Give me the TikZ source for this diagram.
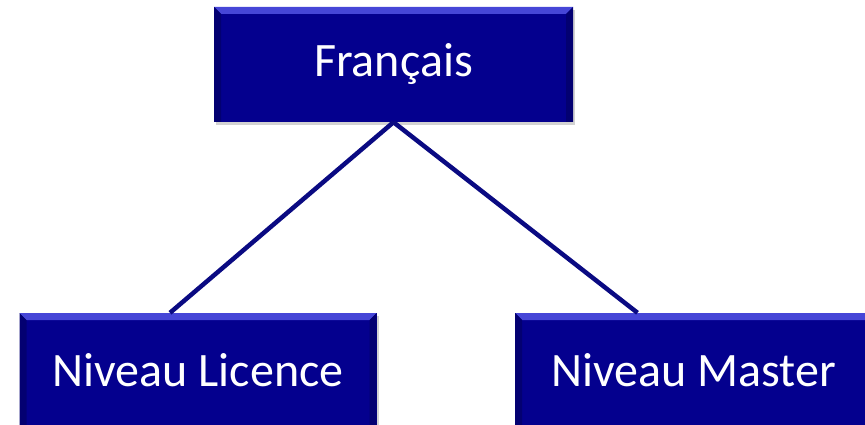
\documentclass[tikz,border=0pt]{standalone}
\usepackage{fontspec}
\setmainfont{Carlito}
\usepackage{tikz}
\usetikzlibrary{positioning}
\usetikzlibrary{calc}
\usetikzlibrary{shadows}
\definecolor{navyfill}{RGB}{4,0,142}
\definecolor{navyline}{RGB}{10,10,130}
\definecolor{navylight}{RGB}{70,70,215}
\tikzset{levelbox/.style={rectangle,minimum width=357pt,minimum height=115pt,inner sep=0pt,
  fill=navyfill,text=white,font=\fontsize{48}{52}\selectfont,
  drop shadow={shadow xshift=2pt,shadow yshift=-3pt,fill=black!35},
  path picture={
    \fill[navylight] (path picture bounding box.north west) -- (path picture bounding box.north east)
      -- ([xshift=-7pt,yshift=-7pt]path picture bounding box.north east)
      -- ([xshift=7pt,yshift=-7pt]path picture bounding box.north west) -- cycle;
    \fill[navyfill!80!black] (path picture bounding box.north west) -- ([xshift=7pt,yshift=-7pt]path picture bounding box.north west)
      -- ([xshift=7pt]path picture bounding box.south west) -- (path picture bounding box.south west) -- cycle;
    \fill[navyfill!80!black] (path picture bounding box.north east) -- ([xshift=-7pt,yshift=-7pt]path picture bounding box.north east)
      -- ([xshift=-7pt]path picture bounding box.south east) -- (path picture bounding box.south east) -- cycle;
  }},
  branch/.style={draw=navyline,line width=4.5pt}}
\begin{document}
\begin{tikzpicture}[x=1pt,y=1pt]
\useasboundingbox (0,0) rectangle (865,-425);
\node (francais) at (393.5,-64.5) [levelbox,minimum width=359pt] {Français};
\node (licence) at (198,-370.5) [levelbox] {Niveau Licence};
\node (master) at (693.5,-370.5) [levelbox] {Niveau Master};

\draw[branch] (francais.south) -- ($(licence.north)+(-28,0)$);
\draw[branch] (francais.south) -- ($(master.north)+(-56,0)$);
\end{tikzpicture}
\end{document}
